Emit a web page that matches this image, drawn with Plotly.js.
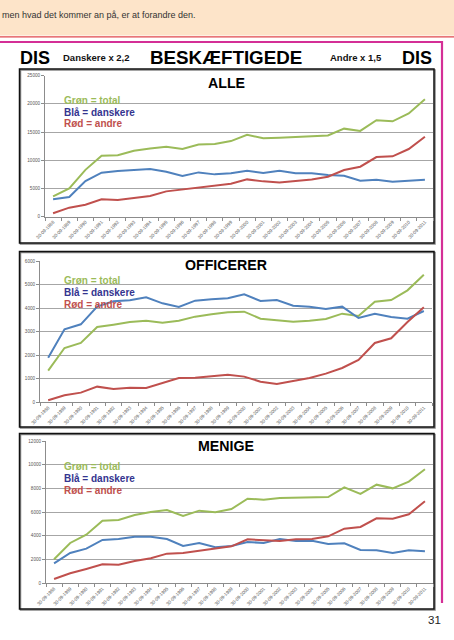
<!DOCTYPE html>
<html>
<head>
<meta charset="utf-8">
<script src="https://cdn.plot.ly/plotly-3.0.1.min.js"></script>
<style>
html,body{margin:0;padding:0;background:#fff;}
#chart{width:454px;height:640px;}
</style>
</head>
<body>
<div id="chart"></div>
<script>
// ---- data ----
const dates = ["30-09-1988","30-09-1989","30-09-1990","30-09-1991","30-09-1992","30-09-1993","30-09-1994","30-09-1995","30-09-1996","30-09-1997","30-09-1998","30-09-1999","30-09-2000","30-09-2001","30-09-2002","30-09-2003","30-09-2004","30-09-2005","30-09-2006","30-09-2007","30-09-2008","30-09-2009","30-09-2010","30-09-2011"];

const alleTotal    = [3600,5000,8300,10800,10900,11700,12100,12400,12000,12800,12900,13400,14500,13900,14000,14100,14200,14400,15600,15200,17100,16900,18300,20800];
const alleDanskere = [3100,3500,6300,7800,8100,8300,8450,7970,7200,7850,7500,7700,8150,7740,8150,7680,7680,7380,7260,6380,6560,6200,6320,6560];
const alleAndre    = [600,1600,2130,3070,2950,3370,3660,4490,4840,5140,5430,5850,6610,6260,6080,6380,6610,7090,8270,8860,10570,10690,11990,14170];

const offTotal    = [1344,2306,2519,3198,3297,3410,3467,3382,3467,3637,3736,3820,3849,3552,3481,3424,3467,3538,3764,3665,4273,4344,4754,5420];
const offDanskere = [1896,3099,3311,4061,4288,4330,4457,4203,4047,4316,4372,4415,4585,4302,4344,4104,4061,3962,4061,3580,3764,3622,3552,3877];
const offAndre    = [85,297,410,665,566,623,608,835,1033,1047,1118,1174,1090,877,778,920,1033,1217,1457,1797,2519,2717,3410,4033];

const menTotal    = [2023,3400,4103,5283,5339,5761,6014,6183,5677,6126,5986,6267,7138,7053,7194,7222,7306,7278,8093,7531,8318,8009,8571,9611];
const menDanskere = [1686,2557,2923,3653,3737,3934,3934,3737,3147,3400,3035,3147,3485,3400,3737,3569,3597,3316,3372,2810,2782,2557,2782,2698];
const menAndre    = [365,843,1208,1602,1574,1883,2108,2501,2557,2754,2951,3119,3709,3625,3569,3709,3737,3962,4609,4749,5480,5452,5817,6913];

const yRanges = [[0,25000],[0,6000],[0,12000]];
const yDticks = [5000,1000,2000];
const panelTitles = ["ALLE","OFFICERER","MENIGE"];
const legendLines = ["Grøn = total","Blå = danskere","Rød = andre"];

// ---- layout helpers (pixel -> paper) ----
const W = 454, H = 640;
const px = x => x / W;
const py = y => 1 - y / H;

const GREEN = "#9bbb59", BLUE = "#4f81bd", RED = "#c0504d";
const FONT = "Liberation Sans, Arial, Helvetica, sans-serif";

const series = [
  [alleTotal, alleDanskere, alleAndre],
  [offTotal, offDanskere, offAndre],
  [menTotal, menDanskere, menAndre]
];
const colors = [GREEN, BLUE, RED];

// plot areas in pixels: [x0, x1, yTop, yBottom]
const areas = [
  [45, 433, 75.6, 216.7],
  [40, 432, 261, 402.3],
  [46, 433, 441, 583.3]
];
const frames = [
  [19.5, 434, 69, 243],
  [19.5, 434, 251.5, 427],
  [19.5, 434, 433.5, 609]
];
const titleY = [82.5, 265, 446];
const legendY = [[100, 112, 124], [280.5, 292.5, 304.5], [466, 478, 490]];
const legendX = [63, 63, 63];

const traces = [];
const layout = {
  width: W, height: H,
  margin: {l: 0, r: 0, t: 0, b: 0},
  paper_bgcolor: "#ffffff",
  plot_bgcolor: "rgba(0,0,0,0)",
  showlegend: false,
  font: {family: FONT},
  shapes: [],
  annotations: []
};

for (let p = 0; p < 3; p++) {
  const sx = p === 0 ? "" : String(p + 1);
  for (let s = 0; s < 3; s++) {
    traces.push({
      type: "scatter", mode: "lines",
      x: dates, y: series[p][s],
      xaxis: "x" + sx, yaxis: "y" + sx,
      line: {color: colors[s], width: 2},
      hoverinfo: "x+y"
    });
  }
  const a = areas[p];
  layout["xaxis" + sx] = {
    domain: [px(a[0]), px(a[1])],
    anchor: "y" + sx,
    type: "category",
    range: [-0.5, dates.length - 0.5],
    tickangle: -45,
    tickfont: {size: 4.6, color: "#555", family: FONT},
    showline: true, linecolor: "#8c8c8c", linewidth: 1,
    ticks: "outside", tickson: "boundaries", ticklen: 3, tickcolor: "#8c8c8c",
    showgrid: false, zeroline: false, fixedrange: true
  };
  layout["yaxis" + sx] = {
    domain: [py(a[3]), py(a[2])],
    anchor: "x" + sx,
    range: yRanges[p],
    dtick: yDticks[p],
    tickformat: "d",
    tickfont: {size: 4.6, color: "#555", family: FONT},
    showline: true, linecolor: "#8c8c8c", linewidth: 1,
    ticks: "outside", ticklen: 3, tickcolor: "#8c8c8c",
    showgrid: true, gridcolor: "#a6a6a6", gridwidth: 1,
    zeroline: false, fixedrange: true
  };
  const f = frames[p];
  // shadow
  layout.shapes.push({type: "rect", xref: "paper", yref: "paper",
    x0: px(f[0] + 1), x1: px(f[1] + 1), y0: py(f[3] + 1), y1: py(f[2] + 1),
    line: {color: "#888", width: 1.5}, layer: "below"});
  layout.shapes.push({type: "rect", xref: "paper", yref: "paper",
    x0: px(f[0]), x1: px(f[1]), y0: py(f[3]), y1: py(f[2]),
    line: {color: "#111", width: 1.5}, fillcolor: "rgba(255,255,255,0)", layer: "below"});
  layout.annotations.push({xref: "paper", yref: "paper", x: px(226), y: py(titleY[p]),
    xanchor: "center", yanchor: "middle", showarrow: false,
    text: "<b>" + panelTitles[p] + "</b>", font: {size: 14.2, color: "#000", family: FONT}});
  const legColors = [GREEN, "#34348f", RED];
  for (let k = 0; k < 3; k++) {
    layout.annotations.push({xref: "paper", yref: "paper", x: px(legendX[p] - 1), y: py(legendY[p][k]),
      xanchor: "left", yanchor: "middle", showarrow: false,
      text: "<b>" + legendLines[k] + "</b>", font: {size: 10, color: legColors[k], family: FONT}});
  }
}

// page decorations
layout.shapes.push({type: "rect", xref: "paper", yref: "paper",
  x0: 0, x1: 1, y0: py(35.5), y1: 1, line: {width: 0}, fillcolor: "#fde4c9", layer: "below"});
layout.shapes.push({type: "line", xref: "paper", yref: "paper",
  x0: 0, x1: 1, y0: py(36.8), y1: py(36.8), line: {color: "#e0474c", width: 1.2}, layer: "below"});
layout.shapes.push({type: "line", xref: "paper", yref: "paper",
  x0: px(-2), x1: px(443), y0: py(42), y1: py(42), line: {color: "#d42f96", width: 2.2}, layer: "below"});
layout.shapes.push({type: "line", xref: "paper", yref: "paper",
  x0: px(442), x1: px(442), y0: py(41), y1: py(603), line: {color: "#d42f96", width: 2.2}, layer: "below"});

const headerTexts = [
  {t: "men hvad det kommer an på, er at forandre den.", x: 0.5, y: 15.5, size: 9, bold: false, anchor: "left", color: "#333"},
  {t: "DIS", x: 19, y: 58, size: 18, bold: true, anchor: "left", color: "#000"},
  {t: "Danskere x 2,2", x: 62, y: 57.5, size: 9.5, bold: true, anchor: "left", color: "#111"},
  {t: "BESKÆFTIGEDE", x: 226, y: 58, size: 18.8, bold: true, anchor: "center", color: "#000"},
  {t: "Andre x 1,5", x: 329, y: 57.5, size: 9.5, bold: true, anchor: "left", color: "#111"},
  {t: "DIS", x: 401, y: 58, size: 18, bold: true, anchor: "left", color: "#000"},
  {t: "31", x: 442, y: 620, size: 11.5, bold: false, anchor: "right", color: "#222"}
];
headerTexts.forEach(h => {
  layout.annotations.push({xref: "paper", yref: "paper", x: px(h.x), y: py(h.y),
    xanchor: h.anchor, yanchor: "middle", showarrow: false, borderpad: 0,
    text: h.bold ? "<b>" + h.t + "</b>" : h.t,
    font: {size: h.size, color: h.color, family: FONT}});
});

Plotly.newPlot("chart", traces, layout, {displayModeBar: false, staticPlot: true});
</script>
</body>
</html>
